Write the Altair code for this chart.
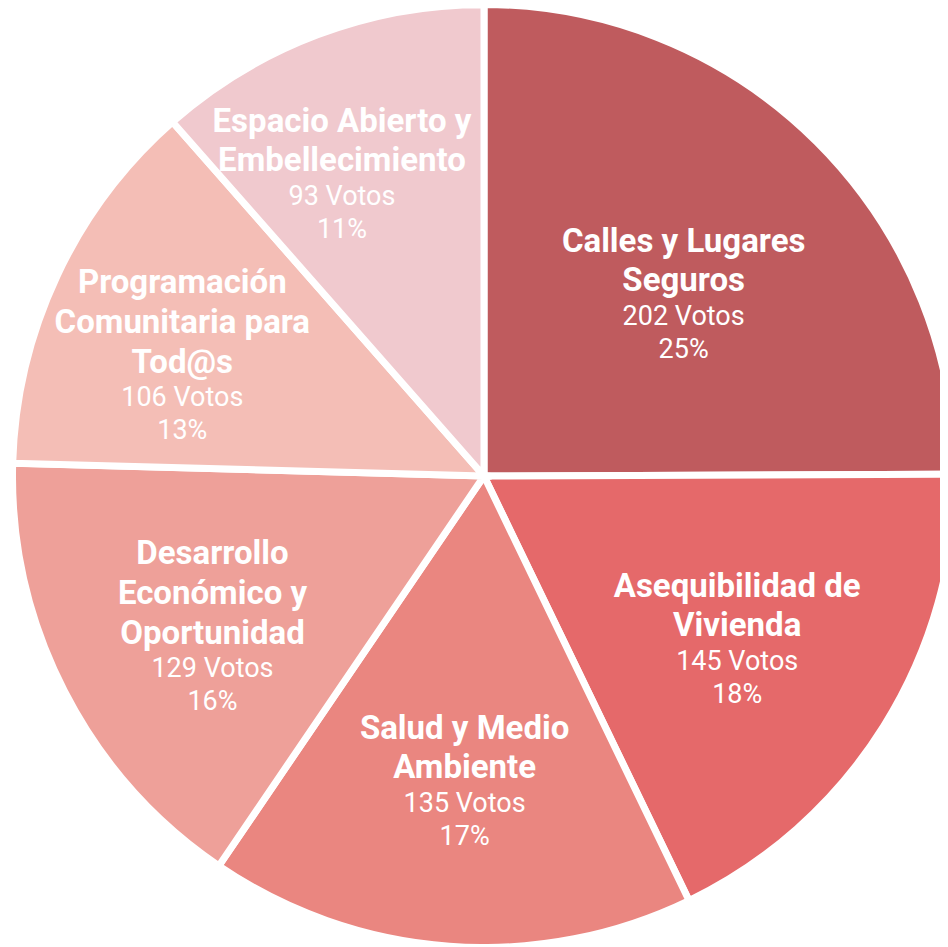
import math
import altair as alt
import pandas as pd

categorias = [
    "Calles y Lugares Seguros",
    "Asequibilidad de Vivienda",
    "Salud y Medio Ambiente",
    "Desarrollo Económico y Oportunidad",
    "Programación Comunitaria para Tod@s",
    "Espacio Abierto y Embellecimiento",
]
lineas = [
    ["Calles y Lugares", "Seguros"],
    ["Asequibilidad de", "Vivienda"],
    ["Salud y Medio", "Ambiente"],
    ["Desarrollo", "Económico y", "Oportunidad"],
    ["Programación", "Comunitaria para", "Tod@s"],
    ["Espacio Abierto y", "Embellecimiento"],
]
votos = [202, 145, 135, 129, 106, 93]
porcentajes = [25, 18, 17, 16, 13, 11]
colores = ["#BF5B5E", "#E5696A", "#EA8680", "#EEA099", "#F4BEB6", "#F0C9CE"]

total = sum(votos)
df = pd.DataFrame({
    "categoria": categorias,
    "votos": votos,
    "orden": list(range(len(categorias))),
    "nlin": [len(l) for l in lineas],
    "l1": [l[0] for l in lineas],
    "l2": [l[1] for l in lineas],
    "l3": [l[2] if len(l) > 2 else "" for l in lineas],
    "txt_votos": [f"{v} Votos" for v in votos],
    "txt_pct": [f"{p}%" for p in porcentajes],
})

CX, CY = 476, 468

arcs = alt.Chart(df).mark_arc(
    outerRadius=471.5, stroke="white", strokeWidth=7, x=CX, y=CY
).encode(
    theta=alt.Theta("votos:Q", stack=True,
                    scale=alt.Scale(domain=[0, total], range=[0, 2 * math.pi])),
    order=alt.Order("orden:Q"),
    color=alt.Color("categoria:N",
                    scale=alt.Scale(domain=categorias, range=colores),
                    legend=None),
)

text_base = alt.Chart(df).transform_stack(
    stack="votos", groupby=[], as_=["t0", "t1"],
    sort=[alt.SortField("orden", order="ascending")],
).transform_calculate(mid="(datum.t0 + datum.t1) / 2")

# label placement: slightly compressed angular scale, larger radius for smaller slices
label_theta = alt.Scale(domain=[0, total],
                        range=[math.radians(4.2), math.radians(354.8)])
radio = alt.Radius(
    "votos:Q",
    scale=alt.Scale(type="linear", zero=False,
                    domain=[min(votos), max(votos)], range=[332, 269]),
)

# (line count, field, bold?, vertical offset from block centre)
filas = [
    (2, "l1", True, -54), (2, "l2", True, -15),
    (2, "txt_votos", False, 21), (2, "txt_pct", False, 54),
    (3, "l1", True, -74), (3, "l2", True, -34), (3, "l3", True, 6),
    (3, "txt_votos", False, 41), (3, "txt_pct", False, 74),
]

layers = [arcs]
for n, campo, bold, off in filas:
    layers.append(
        text_base.transform_filter(f"datum.nlin == {n}").mark_text(
            font="Roboto", fontWeight="bold" if bold else "normal",
            fontSize=33 if bold else 27, color="white",
            align="center", baseline="middle", x=CX, y=CY, dy=off,
        ).encode(
            theta=alt.Theta("mid:Q", scale=label_theta),
            radius=radio,
            text=f"{campo}:N",
        )
    )

chart = alt.layer(*layers).resolve_scale(theta="independent").properties(
    width=932, height=936, padding=0,
    autosize=alt.AutoSizeParams(type="none"),
).configure_view(stroke=None)

chart.save("out.html", embed_options={"renderer": "svg", "actions": False})
